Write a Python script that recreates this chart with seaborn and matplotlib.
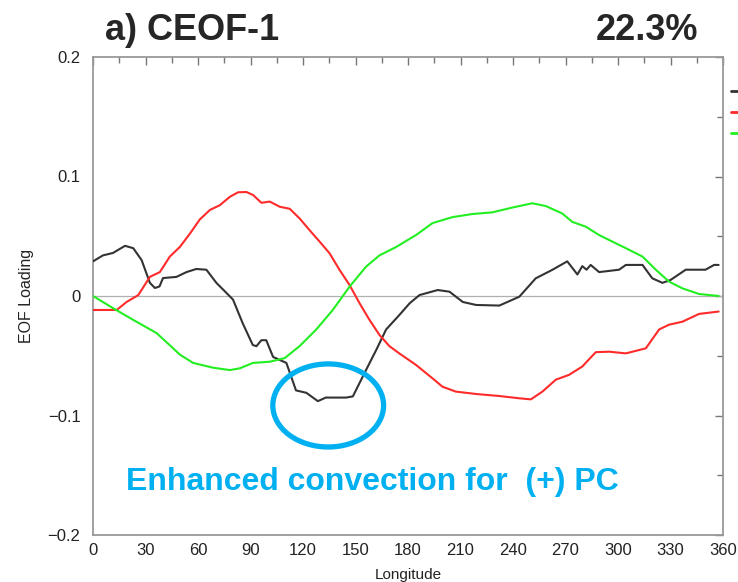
import numpy as np
import pandas as pd
import matplotlib
matplotlib.use("Agg")
import matplotlib.pyplot as plt
from matplotlib.patches import Ellipse
from matplotlib.lines import Line2D
from matplotlib.ticker import MultipleLocator
import seaborn as sns

# ---- data -------------------------------------------------------------
lon_k = [0, 5.7, 11.4, 18.3, 23, 27.8, 32.5, 35.4, 38, 40, 47.7, 53.4, 59, 64.8,
         70.5, 76.3, 80, 85.6, 91.3, 93.4, 96.2, 99, 102.9, 110.5, 116, 121.9,
         128.5, 133, 144.7, 148.5, 156, 161.9, 167.5, 175, 181, 186.6, 197, 203.7,
         211.3, 218.9, 232.2, 243.6, 253, 262.6, 271, 276.8, 279.6, 282, 284.4,
         289.2, 300.6, 304.5, 314, 319.6, 325.4, 330, 338.7, 350, 354.9, 357.5]
val_k = [0.029, 0.034, 0.036, 0.042, 0.040, 0.030, 0.011, 0.0067, 0.008, 0.015,
         0.016, 0.020, 0.0226, 0.022, 0.011, 0.0025, -0.003, -0.023, -0.041, -0.042,
         -0.037, -0.037, -0.051, -0.056, -0.079, -0.081, -0.088, -0.085, -0.085,
         -0.084, -0.062, -0.045, -0.028, -0.016, -0.006, 0.0008, 0.005, 0.0036,
         -0.005, -0.0075, -0.008, -0.0006, 0.0148, 0.022, 0.029, 0.018, 0.025,
         0.022, 0.026, 0.020, 0.022, 0.026, 0.026, 0.0148, 0.011, 0.0134, 0.022,
         0.022, 0.026, 0.026]

lon_r = [0, 13.5, 19.2, 25.9, 32.5, 38.2, 43.9, 49.6, 55.3, 61, 66.8, 72.5, 78.2,
         82.9, 87.7, 91.5, 96.2, 101, 106.7, 112.4, 118, 123.8, 129.5, 135.2, 140.9,
         146.6, 152.3, 158, 163.7, 169.4, 175, 184.6, 194, 199.7, 207.3, 218.9,
         232.2, 243.6, 250.2, 256.8, 264.5, 272, 279.6, 287.3, 294.9, 304.5, 315.9,
         323.5, 329.2, 336.8, 346.3, 357.5]
val_r = [-0.0117, -0.0117, -0.005, 0.0008, 0.016, 0.020, 0.033, 0.041, 0.052,
         0.064, 0.072, 0.076, 0.083, 0.0868, 0.087, 0.0845, 0.078, 0.079, 0.0747,
         0.073, 0.065, 0.055, 0.0455, 0.0357, 0.0218, 0.0092, -0.006, -0.020,
         -0.0326, -0.042, -0.048, -0.0577, -0.0689, -0.0759, -0.080, -0.082,
         -0.0837, -0.0856, -0.0865, -0.080, -0.070, -0.066, -0.059, -0.047,
         -0.0466, -0.048, -0.0438, -0.028, -0.024, -0.0215, -0.015, -0.013]

lon_g = [0, 11.6, 23, 36.3, 43, 49.6, 57.2, 68.6, 78.2, 83.9, 91.4, 101, 109.5,
         118, 127.6, 137, 146.6, 156, 163.7, 173.2, 180, 184.6, 194, 205.4, 216.8,
         228.2, 239.6, 251, 258.7, 268.2, 273.9, 281.6, 289.2, 296.8, 304.5, 314,
         321.6, 329.2, 336.8, 346.3, 357.5]
val_g = [0, -0.0103, -0.020, -0.031, -0.040, -0.049, -0.056, -0.060, -0.062,
         -0.0605, -0.056, -0.055, -0.052, -0.042, -0.028, -0.0117, 0.0078, 0.0245,
         0.034, 0.041, 0.047, 0.051, 0.061, 0.066, 0.0686, 0.070, 0.074, 0.0776,
         0.0753, 0.069, 0.062, 0.058, 0.051, 0.0455, 0.040, 0.033, 0.022, 0.012,
         0.0064, 0.0017, 0.0]

series_names = ["Real", "Imaginary", "Amplitude"]
series_colors = {"Real": "#333333", "Imaginary": "#ff2a2a", "Amplitude": "#22ee22"}

x_ticks = list(range(0, 361, 30))
y_ticks = [-0.2, -0.1, 0, 0.1, 0.2]
y_ticklabels = ["\u22120.2", "\u22120.1", "0", "0.1", "0.2"]

df = pd.concat([
    pd.DataFrame({"Longitude": lon_k, "EOF Loading": val_k, "series": series_names[0]}),
    pd.DataFrame({"Longitude": lon_r, "EOF Loading": val_r, "series": series_names[1]}),
    pd.DataFrame({"Longitude": lon_g, "EOF Loading": val_g, "series": series_names[2]}),
], ignore_index=True)

# ---- figure ---------------------------------------------------------------
sns.set_style("white")
plt.rcParams["font.family"] = ["Liberation Sans", "DejaVu Sans"]

fig = plt.figure(figsize=(7.38, 5.82), dpi=100)
ax = fig.add_axes([93 / 738, 1 - 535 / 582, (723 - 93) / 738, (535 - 57) / 582])

ax.axhline(0, color="#b0b0b0", lw=0.9, zorder=1)

sns.lineplot(data=df, x="Longitude", y="EOF Loading", hue="series",
             hue_order=series_names, palette=series_colors, sort=False,
             estimator=None, linewidth=1.5, legend=False, ax=ax, zorder=3)

ax.set_xlim(0, 360)
ax.set_ylim(-0.2, 0.2)
ax.set_xticks(x_ticks)
ax.set_yticks(y_ticks)
ax.set_yticklabels(y_ticklabels)
ax.xaxis.set_minor_locator(MultipleLocator(15))
ax.yaxis.set_minor_locator(MultipleLocator(0.05))
ax.tick_params(which="both", direction="in", top=True, right=True,
               color="#777777", labelsize=12, labelcolor="#222222")
ax.tick_params(axis="y", pad=9)
ax.tick_params(axis="x", pad=6)
ax.tick_params(which="major", length=6, width=1.0)
ax.tick_params(which="minor", length=4, width=1.0)
for sp in ax.spines.values():
    sp.set_visible(True)
    sp.set_color("#999999")
    sp.set_linewidth(1.3)

ax.set_xlabel("Longitude", fontsize=11, color="#222222", labelpad=7)
ax.set_ylabel("EOF Loading", fontsize=11.5, color="#222222", labelpad=10)

# highlight of the enhanced-convection trough
ax.add_patch(Ellipse((134.4, -0.0916), 63.3, 0.0695, fill=False,
                     edgecolor="#00b0f0", linewidth=3.8, zorder=4))
ax.text(159.5, -0.1555, "Enhanced convection for  (+) PC", color="#00b0f0",
        fontsize=23, fontweight="bold", ha="center", va="center", zorder=5)

fig.text(105 / 738, 1 - 31 / 582, "a) CEOF-1", fontsize=26, fontweight="bold",
         ha="left", va="center")
fig.text(698 / 738, 1 - 31 / 582, "22.3%", fontsize=26, fontweight="bold",
         ha="right", va="center")

# legend keys sit at the right margin
handles = [Line2D([], [], color=series_colors[n], lw=2) for n in series_names]
fig.legend(handles, ["", "", ""], loc="upper left",
           bbox_to_anchor=(724 / 738, 1 - 78 / 582), frameon=False,
           borderpad=0, handlelength=1.5, labelspacing=0.5, fontsize=10)

fig.savefig("out.png", dpi=100)
